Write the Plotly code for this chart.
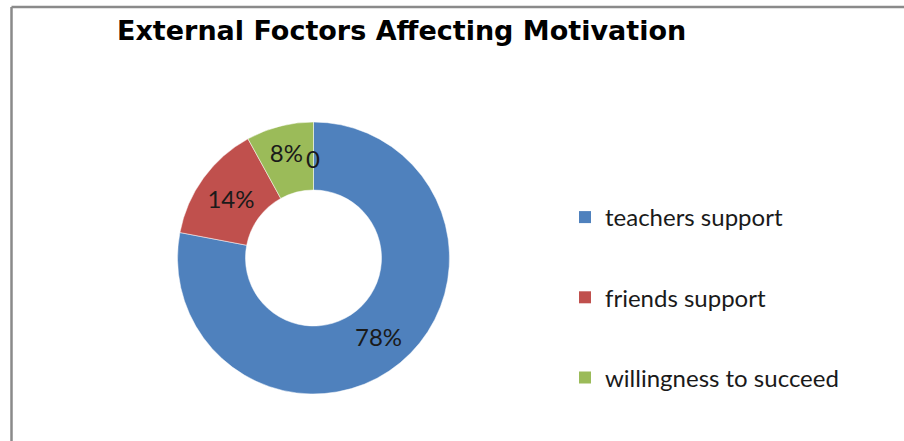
import plotly.graph_objects as go

# Survey shares of external factors affecting motivation
categories = ["teachers support", "friends support", "willingness to succeed"]
shares = [78, 14, 8]
colors = ["#4F81BD", "#C0504D", "#9BBB59"]
extra_label = "0"

W, H = 904, 441
body_font = "Lato, Carlito, Calibri, sans-serif"

fig = go.Figure()

fig.add_trace(go.Pie(
    labels=categories,
    values=shares,
    hole=0.5,
    sort=False,
    direction="clockwise",
    rotation=0,
    marker=dict(colors=colors, line=dict(color="white", width=0.5)),
    texttemplate="%{percent:.0%}",
    textposition="inside",
    insidetextorientation="horizontal",
    insidetextfont=dict(family=body_font, size=24, color="#1a1a1a"),
    domain=dict(x=[177.5 / W, 449.5 / W], y=[1 - 394 / H, 1 - 122 / H]),
    showlegend=False,
    hoverinfo="label+percent",
))

# Legend entries, one group each so the items are spread apart
for name, col in zip(categories, colors):
    fig.add_trace(go.Scatter(
        x=[None], y=[None], mode="markers", name=name,
        legendgroup=name,
        marker=dict(symbol="square", size=11, color=col),
        hoverinfo="skip",
    ))

fig.add_annotation(
    text=extra_label, x=313 / W, y=1 - 158 / H, xref="paper", yref="paper",
    showarrow=False, font=dict(family=body_font, size=24, color="#1a1a1a"),
)

# chart frame (top and left edges)
frame = dict(color="#8a8a8a", width=2.5)
fig.add_shape(type="line", xref="paper", yref="paper", x0=11.5 / W, x1=1, y0=1 - 7 / H, y1=1 - 7 / H, line=frame)
fig.add_shape(type="line", xref="paper", yref="paper", x0=11.5 / W, x1=11.5 / W, y0=0, y1=1 - 7 / H, line=frame)

fig.update_layout(
    width=W, height=H,
    margin=dict(l=0, r=0, t=0, b=0),
    paper_bgcolor="white", plot_bgcolor="white",
    title=dict(
        text="<b>External Foctors Affecting Motivation</b>",
        x=117 / W, xanchor="left", y=1 - 31 / H, yanchor="middle",
        font=dict(family="DejaVu Sans, Liberation Sans, Arial, sans-serif", size=27, color="black"),
    ),
    xaxis=dict(visible=False), yaxis=dict(visible=False),
    legend=dict(
        x=565 / W, y=1 - 195 / H, xanchor="left", yanchor="top",
        font=dict(family=body_font, size=24, color="#1a1a1a"),
        tracegroupgap=46, itemsizing="constant",
        bgcolor="rgba(0,0,0,0)",
    ),
)

fig.write_html("out.html")
